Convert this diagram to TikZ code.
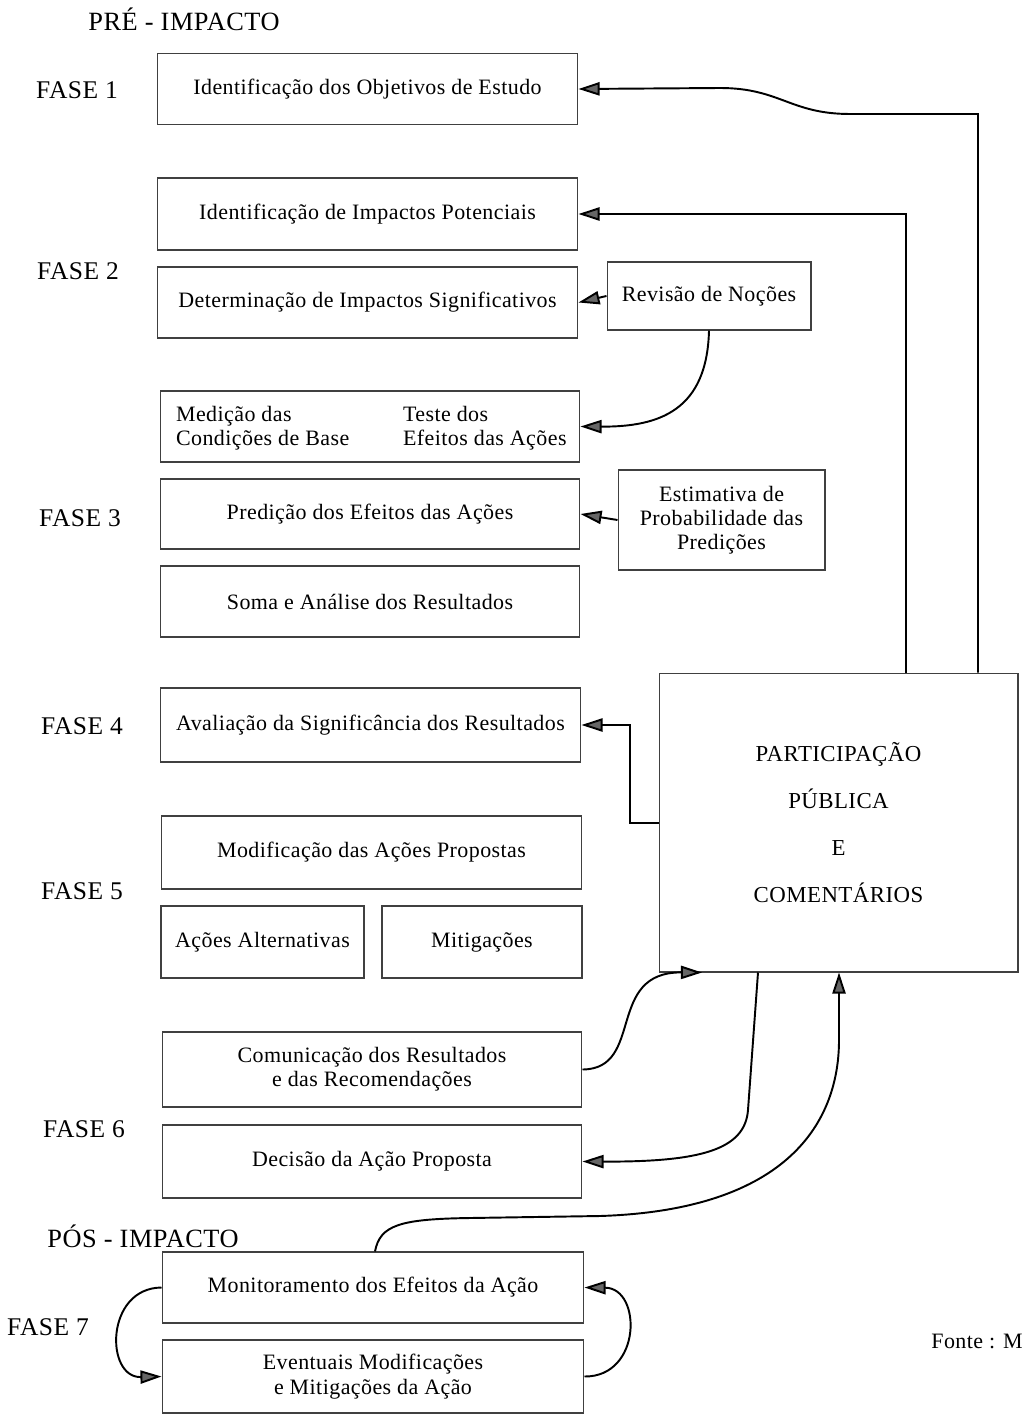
\documentclass[tikz,border=0pt]{standalone}
\usepackage{fontspec}
\setmainfont{Liberation Serif}[LetterSpace=2]
\usetikzlibrary{arrows.meta, positioning}

\tikzset{
  caixa/.style={draw=black!75, line width=0.6pt, align=center, inner sep=2pt,
    font=\fontsize{12.5}{13.8}\selectfont},
  fase/.style={font=\fontsize{14.5}{16}\selectfont},
  seta/.style={line width=1.1pt, -{Triangle[length=12pt, width=7.5pt, fill=black!60]}},
}

\begin{document}
\begin{tikzpicture}[x=0.02cm, y=-0.02cm]
\useasboundingbox (0,0) rectangle (1022,1419);

% titulos e fases
\node[fase, font=\fontsize{15}{16}\selectfont] (pre) at (184,19) {PRÉ - IMPACTO};
\node[fase] (f1) at (77,90) {FASE 1};
\node[fase] (f2) at (78,271) {FASE 2};
\node[fase] (f3) at (80,518) {FASE 3};
\node[fase] (f4) at (82,726) {FASE 4};
\node[fase] (f5) at (82,891) {FASE 5};
\node[fase] (f6) at (84,1129) {FASE 6};
\node[fase, font=\fontsize{15}{16}\selectfont] (pos) at (143,1236) {PÓS - IMPACTO};
\node[fase] (f7) at (48,1327) {FASE 7};

% etapas
\node[caixa, minimum width=8.42cm, minimum height=1.42cm] (b1) at (367.5,89) {Identificação dos Objetivos de Estudo};
\node[caixa, minimum width=8.42cm, minimum height=1.44cm] (b2) at (367.5,214) {Identificação de Impactos Potenciais};
\node[caixa, minimum width=8.42cm, minimum height=1.42cm] (b3) at (367.5,302.5) {Determinação de Impactos Significativos};
\node[caixa, minimum width=4.08cm, minimum height=1.36cm] (rev) at (709,296) {Revisão de Noções};
\node[caixa, minimum width=8.4cm, minimum height=1.42cm] (b4) at (370,426.5) {};
\node[caixa, draw=none, align=left, anchor=west] (med) at (172,428) {Medição das\\Condições de Base};
\node[caixa, draw=none, align=left, anchor=west] (tes) at (399,428) {Teste dos\\Efeitos das Ações};
\node[caixa, minimum width=8.4cm, minimum height=1.4cm] (b5) at (370,514) {Predição dos Efeitos das Ações};
\node[caixa, minimum width=4.14cm, minimum height=2cm] (est) at (721.5,520) {Estimativa de\\Probabilidade das\\Predições};
\node[caixa, minimum width=8.4cm, minimum height=1.42cm] (b6) at (370,601.5) {Soma e Análise dos Resultados};
\node[caixa, minimum width=8.42cm, minimum height=1.48cm] (b7) at (370.5,725) {Avaliação da Significância dos Resultados};
\node[caixa, minimum width=7.18cm, minimum height=5.98cm, font=\fontsize{13}{26.6}\selectfont] (part) at (838.5,822.5) {PARTICIPAÇÃO\\PÚBLICA\\E\\COMENTÁRIOS};
\node[caixa, minimum width=8.42cm, minimum height=1.46cm] (b8) at (371.5,852.5) {Modificação das Ações Propostas};
\node[caixa, minimum width=4.06cm, minimum height=1.44cm] (b9) at (262.5,942) {Ações Alternativas};
\node[caixa, minimum width=4cm, minimum height=1.44cm] (b10) at (482,942) {Mitigações};
\node[caixa, minimum width=8.4cm, minimum height=1.5cm] (b11) at (372,1069.5) {Comunicação dos Resultados\\e das Recomendações};
\node[caixa, minimum width=8.4cm, minimum height=1.46cm] (b12) at (372,1161.5) {Decisão da Ação Proposta};
\node[caixa, minimum width=8.44cm, minimum height=1.42cm] (b13) at (373,1287.5) {Monitoramento dos Efeitos da Ação};
\node[caixa, minimum width=8.44cm, minimum height=1.46cm] (b14) at (373,1376.5) {Eventuais Modificações\\e Mitigações da Ação};

\node[font=\fontsize{12.5}{14}\selectfont, anchor=west, inner sep=0pt] (fonte) at (931,1341) {Fonte : M};

% ligacoes
\draw[seta] (part.north -| 978,0) -- (978,114) -- (850,114) .. controls (790,114) and (780,88) .. (720,88) -- (b1.east);
\draw[seta] (part.north -| 906,0) |- (b2.east);
\draw[seta] (rev.west) -- (b3.east);
\draw[seta] (rev.south) .. controls (707,410) and (660,427) .. (b4.east);
\draw[seta] (est.west) -- (b5.east);
\draw[seta] (part.west |- 0,823) -- (630,823) |- (b7.east);
\draw[seta] (b11.east) .. controls (645,1069) and (605,972) .. (part.south -| 702,0);
\draw[seta] (part.south -| 758,0) -- (748,1110) .. controls (745,1150) and (700,1162) .. (b12.east);
\draw[seta] (b13.north -| 375,0) .. controls (380,1225) and (400,1219) .. (470,1218) -- (600,1216) .. controls (790,1210) and (839,1120) .. (839,1040) -- (part.south -| 839,0);
\draw[seta] (b13.west) .. controls (105,1288) and (105,1378) .. (b14.west);
\draw[seta] (b14.east) .. controls (642,1377) and (642,1288) .. (b13.east);
\end{tikzpicture}
\end{document}
